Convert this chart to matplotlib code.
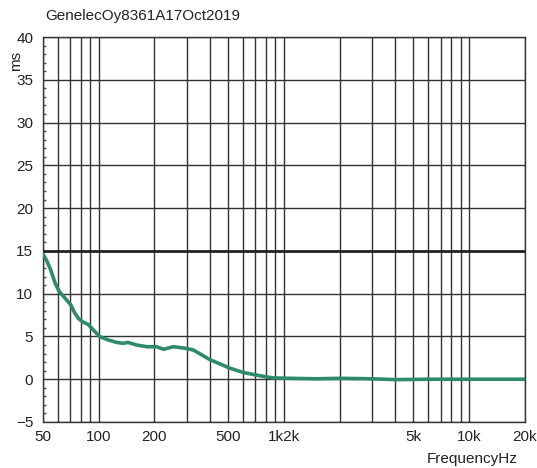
import numpy as np
import matplotlib.pyplot as plt
from matplotlib.ticker import FixedLocator, NullFormatter, MultipleLocator

plt.rcParams['font.family'] = ['Liberation Sans', 'DejaVu Sans']

freq = [50, 52, 55, 58, 61, 65, 70.6, 74, 77.8, 82, 87.8, 94, 101, 112, 125,
        135, 144, 160, 182, 205, 224, 253, 297, 325, 350, 397, 450, 510, 600,
        743, 875, 1100, 1500, 2000, 3000, 4000, 6000, 10000, 20000]
delay = [14.6, 14.0, 12.8, 11.3, 10.3, 9.6, 8.7, 7.8, 7.1, 6.7, 6.4, 5.7, 5.0,
         4.6, 4.3, 4.2, 4.3, 4.0, 3.8, 3.8, 3.5, 3.8, 3.6, 3.4, 3.0, 2.3, 1.8,
         1.3, 0.8, 0.4, 0.15, 0.1, 0.05, 0.1, 0.05, -0.05, 0.0, 0.0, 0.0]

xtick_pos = [50, 100, 200, 500, 1000, 5000, 10000, 20000]
xtick_lab = ['50', '100', '200', '500', '1k2k', '5k', '10k', '20k']
minor_pos = [60, 70, 80, 90, 300, 400, 600, 700, 800, 900, 2000, 3000, 4000,
             6000, 7000, 8000, 9000]

fig = plt.figure(figsize=(5.37, 4.68), dpi=100)
ax = fig.add_axes([0.080, 0.0983, 0.8976, 0.8226])
ax.set_xscale('log')
ax.set_xlim(50, 20000)
ax.set_ylim(-5, 40)

ax.xaxis.set_major_locator(FixedLocator(xtick_pos))
ax.xaxis.set_minor_locator(FixedLocator(minor_pos))
ax.xaxis.set_minor_formatter(NullFormatter())
ax.set_xticklabels(xtick_lab)
ax.yaxis.set_major_locator(MultipleLocator(5))
ax.yaxis.set_minor_locator(MultipleLocator(1))

ax.grid(True, which='both', axis='x', color='#333333', lw=1.0)
ax.grid(True, which='major', axis='y', color='#333333', lw=1.0)
ax.axhline(15, color='#222222', lw=2.0, zorder=2)

ax.tick_params(axis='x', which='both', length=0, labelsize=11, pad=6,
               colors='#222222')
ax.tick_params(axis='y', which='major', length=0, labelsize=11, pad=7,
               colors='#222222')
ax.tick_params(axis='y', which='minor', direction='in', length=2.5, width=1.0,
               color='#555555')
for s in ax.spines.values():
    s.set_color('#333333')
    s.set_linewidth(1.0)

ax.plot(freq, delay, color='#2e8a6c', lw=2.6, solid_capstyle='round', zorder=3)

fig.text(0.084, 0.958, 'GenelecOy8361A17Oct2019', fontsize=11, color='#222222')
fig.text(0.016, 0.855, 'ms', rotation=90, fontsize=11, color='#222222')
fig.text(0.795, 0.01, 'FrequencyHz', fontsize=11, color='#222222')

plt.savefig('out.png', dpi=100)
